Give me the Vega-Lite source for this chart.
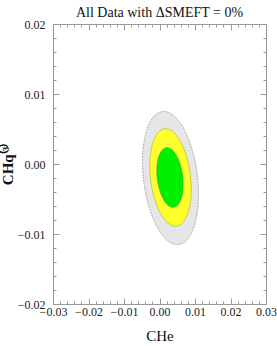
{
  "$schema": "https://vega.github.io/schema/vega-lite/v6.json",
  "width": 213,
  "height": 280,
  "autosize": {"type": "none"},
  "padding": {"left": 53, "top": 24, "right": 11, "bottom": 42},
  "background": "white",
  "title": {"text": "All Data with ΔSMEFT = 0%", "font": "Liberation Serif", "fontSize": 14, "fontWeight": "normal", "color": "#111", "anchor": "middle", "offset": -2},
  "config": {
    "view": {"stroke": null},
    "axis": {"grid": false, "domainColor": "#999", "tickColor": "#999", "labelFont": "Liberation Serif", "labelFontSize": 12, "labelColor": "#222", "titleFont": "Liberation Serif", "titleColor": "#111", "labelOverlap": false, "labelFlush": false}
  },
  "datasets": {
    "ellipses": [
      {"level": "gray", "k": 0, "CHe": 0.000798, "CHq3": 0.007504},
      {"level": "gray", "k": 1, "CHe": 0.003865, "CHq3": 0.006961},
      {"level": "gray", "k": 2, "CHe": 0.006809, "CHq3": 0.005053},
      {"level": "gray", "k": 3, "CHe": 0.009195, "CHq3": 0.002074},
      {"level": "gray", "k": 4, "CHe": 0.010651, "CHq3": -0.00153},
      {"level": "gray", "k": 5, "CHe": 0.010958, "CHq3": -0.005206},
      {"level": "gray", "k": 6, "CHe": 0.010065, "CHq3": -0.008387},
      {"level": "gray", "k": 7, "CHe": 0.008119, "CHq3": -0.010601},
      {"level": "gray", "k": 8, "CHe": 0.0054, "CHq3": -0.011504},
      {"level": "gray", "k": 9, "CHe": 0.002333, "CHq3": -0.010961},
      {"level": "gray", "k": 10, "CHe": -0.000611, "CHq3": -0.009053},
      {"level": "gray", "k": 11, "CHe": -0.002997, "CHq3": -0.006074},
      {"level": "gray", "k": 12, "CHe": -0.004453, "CHq3": -0.00247},
      {"level": "gray", "k": 13, "CHe": -0.00476, "CHq3": 0.001206},
      {"level": "gray", "k": 14, "CHe": -0.003867, "CHq3": 0.004387},
      {"level": "gray", "k": 15, "CHe": -0.001921, "CHq3": 0.006601},
      {"level": "yellow", "k": 0, "CHe": 0.001414, "CHq3": 0.005022},
      {"level": "yellow", "k": 1, "CHe": 0.003685, "CHq3": 0.004627},
      {"level": "yellow", "k": 2, "CHe": 0.005862, "CHq3": 0.003232},
      {"level": "yellow", "k": 3, "CHe": 0.007623, "CHq3": 0.001055},
      {"level": "yellow", "k": 4, "CHe": 0.008693, "CHq3": -0.00158},
      {"level": "yellow", "k": 5, "CHe": 0.008913, "CHq3": -0.00427},
      {"level": "yellow", "k": 6, "CHe": 0.008245, "CHq3": -0.006596},
      {"level": "yellow", "k": 7, "CHe": 0.0068, "CHq3": -0.008219},
      {"level": "yellow", "k": 8, "CHe": 0.004784, "CHq3": -0.00888},
      {"level": "yellow", "k": 9, "CHe": 0.002513, "CHq3": -0.008485},
      {"level": "yellow", "k": 10, "CHe": 0.000336, "CHq3": -0.00709},
      {"level": "yellow", "k": 11, "CHe": -0.001425, "CHq3": -0.004913},
      {"level": "yellow", "k": 12, "CHe": -0.002495, "CHq3": -0.002278},
      {"level": "yellow", "k": 13, "CHe": -0.002715, "CHq3": 0.000412},
      {"level": "yellow", "k": 14, "CHe": -0.002047, "CHq3": 0.002738},
      {"level": "yellow", "k": 15, "CHe": -0.000602, "CHq3": 0.004361},
      {"level": "green", "k": 0, "CHe": 0.001927, "CHq3": 0.002327},
      {"level": "green", "k": 1, "CHe": 0.003378, "CHq3": 0.00209},
      {"level": "green", "k": 2, "CHe": 0.004761, "CHq3": 0.001237},
      {"level": "green", "k": 3, "CHe": 0.005871, "CHq3": -0.000093},
      {"level": "green", "k": 4, "CHe": 0.006538, "CHq3": -0.001706},
      {"level": "green", "k": 5, "CHe": 0.006659, "CHq3": -0.003353},
      {"level": "green", "k": 6, "CHe": 0.00622, "CHq3": -0.00478},
      {"level": "green", "k": 7, "CHe": 0.005282, "CHq3": -0.005776},
      {"level": "green", "k": 8, "CHe": 0.003989, "CHq3": -0.006185},
      {"level": "green", "k": 9, "CHe": 0.002538, "CHq3": -0.005948},
      {"level": "green", "k": 10, "CHe": 0.001155, "CHq3": -0.005095},
      {"level": "green", "k": 11, "CHe": 0.000045, "CHq3": -0.003765},
      {"level": "green", "k": 12, "CHe": -0.000622, "CHq3": -0.002152},
      {"level": "green", "k": 13, "CHe": -0.000743, "CHq3": -0.000505},
      {"level": "green", "k": 14, "CHe": -0.000304, "CHq3": 0.000922},
      {"level": "green", "k": 15, "CHe": 0.000634, "CHq3": 0.001918}
    ]
  },
  "data": {"name": "ellipses"},
  "resolve": {"axis": {"x": "independent", "y": "independent"}},
  "layer": [
    {
      "transform": [{"filter": "datum.level === 'gray'"}],
      "mark": {"type": "line", "interpolate": "cardinal-closed", "fill": "#e6e6e6", "stroke": "#a0a0a0", "strokeWidth": 0.8, "strokeDash": [2, 1]},
      "encoding": {
        "x": {"field": "CHe", "type": "quantitative", "scale": {"domain": [-0.03, 0.03], "nice": false, "zero": false},
          "axis": {"orient": "bottom", "title": "CHe", "titleFontSize": 15, "titleFontWeight": "normal", "titlePadding": 8,
            "values": [-0.03,-0.028,-0.026,-0.024,-0.022,-0.02,-0.018,-0.016,-0.014,-0.012,-0.01,-0.008,-0.006,-0.004,-0.002,0,0.002,0.004,0.006,0.008,0.01,0.012,0.014,0.016,0.018,0.02,0.022,0.024,0.026,0.028,0.03],
            "labelExpr": "abs(datum.value*100 - round(datum.value*100)) < 0.001 ? format(datum.value, '.2f') : ''",
            "tickSize": {"condition": {"test": "abs(datum.value*100 - round(datum.value*100)) < 0.001", "value": -6}, "value": -3},
            "labelPadding": 8}},
        "y": {"field": "CHq3", "type": "quantitative", "scale": {"domain": [-0.02, 0.02], "nice": false, "zero": false},
          "axis": {"orient": "left", "title": "CHq⁽³⁾", "titleFontSize": 15, "titleFontWeight": "bold", "titlePadding": 2,
            "values": [-0.02,-0.018,-0.016,-0.014,-0.012,-0.01,-0.008,-0.006,-0.004,-0.002,0,0.002,0.004,0.006,0.008,0.01,0.012,0.014,0.016,0.018,0.02],
            "labelExpr": "abs(datum.value*100 - round(datum.value*100)) < 0.001 ? format(datum.value, '.2f') : ''",
            "tickSize": {"condition": {"test": "abs(datum.value*100 - round(datum.value*100)) < 0.001", "value": -6}, "value": -3},
            "labelPadding": 14}},
        "order": {"field": "k", "type": "quantitative"}
      }
    },
    {
      "transform": [{"filter": "datum.level === 'yellow'"}],
      "mark": {"type": "line", "interpolate": "cardinal-closed", "fill": "#ffff2e", "stroke": "#b0a830", "strokeWidth": 0.6},
      "encoding": {
        "x": {"field": "CHe", "type": "quantitative",
          "axis": {"orient": "top", "title": null, "labels": false,
            "values": [-0.03,-0.028,-0.026,-0.024,-0.022,-0.02,-0.018,-0.016,-0.014,-0.012,-0.01,-0.008,-0.006,-0.004,-0.002,0,0.002,0.004,0.006,0.008,0.01,0.012,0.014,0.016,0.018,0.02,0.022,0.024,0.026,0.028,0.03],
            "tickSize": {"condition": {"test": "abs(datum.value*100 - round(datum.value*100)) < 0.001", "value": -6}, "value": -3}}},
        "y": {"field": "CHq3", "type": "quantitative",
          "axis": {"orient": "right", "title": null, "labels": false,
            "values": [-0.02,-0.018,-0.016,-0.014,-0.012,-0.01,-0.008,-0.006,-0.004,-0.002,0,0.002,0.004,0.006,0.008,0.01,0.012,0.014,0.016,0.018,0.02],
            "tickSize": {"condition": {"test": "abs(datum.value*100 - round(datum.value*100)) < 0.001", "value": -6}, "value": -3}}},
        "order": {"field": "k", "type": "quantitative"}
      }
    },
    {
      "transform": [{"filter": "datum.level === 'green'"}],
      "mark": {"type": "line", "interpolate": "cardinal-closed", "fill": "#00f000", "stroke": "#5a9a30", "strokeWidth": 0.6},
      "encoding": {
        "x": {"field": "CHe", "type": "quantitative", "axis": null},
        "y": {"field": "CHq3", "type": "quantitative", "axis": null},
        "order": {"field": "k", "type": "quantitative"}
      }
    }
  ]
}
